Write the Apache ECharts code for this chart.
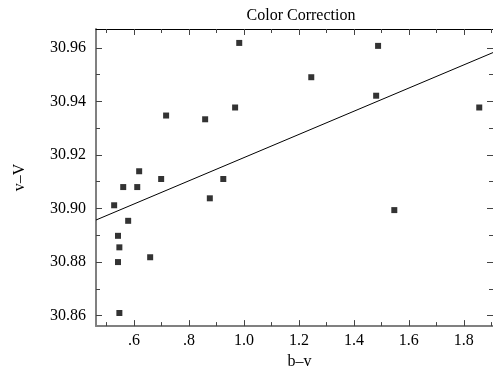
<!DOCTYPE html>
<html>
<head>
<meta charset="utf-8">
<script src="https://cdn.jsdelivr.net/npm/echarts@6/dist/echarts.min.js"></script>
<style>html,body{margin:0;padding:0;background:#fff}#c{width:493px;height:375px}</style>
</head>
<body>
<div id="c"></div>
<script>
const bv = [0.983, 1.488, 1.245, 1.481, 1.856, 0.968, 0.717, 0.859, 0.619, 0.699, 0.561, 0.612, 0.925, 0.876, 0.528, 0.579, 0.542, 1.547, 0.547, 0.542, 0.659, 0.547];
const vV = [30.9618, 30.9607, 30.949, 30.9421, 30.9377, 30.9377, 30.9347, 30.9333, 30.9139, 30.911, 30.908, 30.908, 30.911, 30.9038, 30.9012, 30.8954, 30.8898, 30.8994, 30.8855, 30.880, 30.8818, 30.861];
const fitX = [0.462, 1.906];
const fitY = [30.8957, 30.9582];
const xMajor = [0.6, 0.8, 1.0, 1.2, 1.4, 1.6, 1.8];
const xMinor = [0.5, 0.7, 0.9, 1.1, 1.3, 1.5, 1.7, 1.9];
const yMajor = [30.86, 30.88, 30.90, 30.92, 30.94, 30.96];
const yMinor = [30.87, 30.89, 30.91, 30.93, 30.95];

const FONT = 'Liberation Serif';
const xRange = {min: 0.462, max: 1.906};
const yRange = {min: 30.8561, max: 30.967};

function xFmt(v){ const s = v.toFixed(1); return s.startsWith('0') ? s.slice(1) : s; }

function axisBase(pos, range, ticks, len, opts){
  return Object.assign({
    type: 'value', position: pos, min: range.min, max: range.max,
    splitLine: {show: false},
    axisLine: {show: false},
    axisTick: {show: true, inside: true, length: len, customValues: ticks, lineStyle: {color: '#444', width: 1}},
    axisLabel: {show: false}
  }, opts || {});
}

const chart = echarts.init(document.getElementById('c'));
chart.setOption({
  animation: false,
  backgroundColor: '#fff',
  title: {text: 'Color Correction', left: 296, top: 3, textAlign: 'center',
    textStyle: {fontFamily: FONT, fontSize: 16, fontWeight: 'normal', color: '#000'}},
  grid: {left: 96, right: 0, top: 29, bottom: 45, containLabel: false},
  xAxis: [
    axisBase('bottom', xRange, xMajor, 6, {
      axisLine: {show: true, onZero: false, lineStyle: {color: '#808080', width: 2}},
      axisLabel: {show: true, customValues: xMajor, formatter: xFmt, margin: 7,
        fontFamily: FONT, fontSize: 16, color: '#000'},
      name: 'b–v', nameLocation: 'middle', nameGap: 24,
      nameTextStyle: {fontFamily: FONT, fontSize: 16, color: '#000', padding: [0,0,0,10]}
    }),
    axisBase('bottom', xRange, xMinor, 4),
    axisBase('top', xRange, xMajor, 6, {axisLine: {show: true, onZero: false, lineStyle: {color: '#000', width: 1}}}),
    axisBase('top', xRange, xMinor, 4)
  ],
  yAxis: [
    axisBase('left', yRange, yMajor, 6, {
      axisLine: {show: true, onZero: false, lineStyle: {color: '#808080', width: 2}},
      axisLabel: {show: true, customValues: yMajor, formatter: v => v.toFixed(2), margin: 10,
        fontFamily: FONT, fontSize: 16, color: '#000'},
      name: 'v–V', nameLocation: 'middle', nameGap: 68, nameRotate: 90,
      nameTextStyle: {fontFamily: FONT, fontSize: 16, color: '#000'}
    }),
    axisBase('left', yRange, yMinor, 4),
    axisBase('right', yRange, yMajor, 6, {axisLine: {show: true, onZero: false, lineStyle: {color: '#000', width: 1}}}),
    axisBase('right', yRange, yMinor, 4)
  ],
  series: [
    {type: 'scatter', xAxisIndex: 0, yAxisIndex: 0, symbol: 'rect', symbolSize: 6,
      itemStyle: {color: '#000'}, data: bv.map((x, i) => [x, vV[i]])},
    {type: 'line', xAxisIndex: 0, yAxisIndex: 0, showSymbol: false, symbol: 'none',
      lineStyle: {color: '#000', width: 1}, data: fitX.map((x, i) => [x, fitY[i]])}
  ]
});
</script>
</body>
</html>
